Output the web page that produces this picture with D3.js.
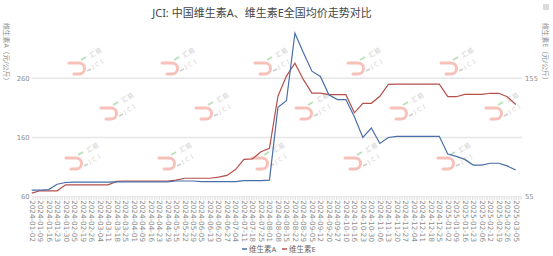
<!DOCTYPE html>
<html>
<head>
<meta charset="utf-8">
<script src="https://cdn.jsdelivr.net/npm/d3@7"></script>
<style>
  body { margin: 0; background: #fff; }
  svg { display: block; font-family: "Noto Sans", "Noto Sans CJK SC", sans-serif; }
</style>
</head>
<body>
<svg id="mainFrame"></svg>
<script>
const dates = ['2024-01-02','2024-01-09','2024-01-16','2024-01-23','2024-01-30','2024-02-05','2024-02-19','2024-02-26',
    '2024-03-04','2024-03-11','2024-03-18','2024-03-25','2024-04-01','2024-04-09','2024-04-16','2024-04-23','2024-04-29',
    '2024-05-15','2024-05-22','2024-05-29','2024-06-05','2024-06-13','2024-06-20','2024-06-27','2024-07-04','2024-07-11',
    '2024-07-18','2024-07-25','2024-08-01','2024-08-08','2024-08-15','2024-08-22','2024-08-29','2024-09-05','2024-09-12',
    '2024-09-20','2024-09-27','2024-10-10','2024-10-16','2024-10-23','2024-10-30','2024-11-06','2024-11-13','2024-11-20',
    '2024-11-27','2024-12-04','2024-12-11','2024-12-18','2024-12-25','2025-01-02','2025-01-09','2025-01-16','2025-01-23',
    '2025-02-06','2025-02-12','2025-02-19','2025-02-26','2025-03-05'];

// 维生素A (元/公斤), left axis
const vitA = [71, 71, 72, 81, 84, 84.5, 84.5, 84.5, 84.5, 84.5,
    85, 85, 85, 85, 85, 85, 85, 86.5, 86.5, 86.5,
    85.5, 85.5, 85.5, 85.5, 85.5, 87, 87, 87, 88, 211,
    222, 336, 303, 272, 263, 232, 224, 224, 195, 160,
    176, 150, 160, 162, 162, 162, 162, 162, 162, 132,
    128, 123, 113.5, 113.5, 116.5, 116.5, 112, 105];

// 维生素E (元/公斤), right axis
const vitE = [58, 60, 60, 60, 65, 65, 65, 65, 65, 65,
    68, 68.3, 68.3, 68.3, 68.3, 68.3, 68.3, 69, 70.6, 70.6,
    70.6, 70.6, 71.5, 73, 78, 86.6, 87, 93, 96, 140,
    157, 168, 154, 142.7, 142.7, 141.3, 141.3, 141.3, 126, 134,
    134, 140, 150, 150.3, 150.3, 150.3, 150.3, 150.3, 150.3, 139.6,
    139.6, 141.6, 141.6, 141.6, 142.5, 142.5, 139.6, 133];

const leftTicks = [60, 160, 260];
const rightTicks = [55, 155];
const seriesNames = ['维生素A', '维生素E'];

const width = 553, height = 256;
const svg = d3.select('#mainFrame')
    .attr('width', width)
    .attr('height', height);

const plot = { left: 31.7, right: 522, top: 33, bottom: 196.7 };
const colors = ['#4a6ea8', '#b5504c'];

const x = d3.scalePoint().domain(dates).range([plot.left, 515.7]);
const yA = d3.scaleLinear().domain([60, 336.5]).range([plot.bottom, plot.top]);
const yE = d3.scaleLinear().domain([55, 193.5]).range([plot.bottom, plot.top]);

// watermark tiles
const marks = [];
[88, 181, 274, 367, 460].forEach(cx => marks.push([cx, 62], [cx - 3, 157]));
[120, 215, 315, 410, 505].forEach(cx => marks.push([cx, 107]));
const wm = svg.append('g').attr('opacity', 0.7);
marks.forEach(([cx, cy]) => {
    const g = wm.append('g').attr('transform', `translate(${cx},${cy})`);
    g.append('path')
        .attr('d', 'M-19,1 L-9,1 A5.5,5.5 0 0 1 -9,12 L-14,12')
        .attr('fill', 'none').attr('stroke', '#f4a79e').attr('stroke-width', 3)
        .attr('stroke-linecap', 'round');
    g.append('line').attr('x1', -7).attr('y1', -2).attr('x2', -2).attr('y2', -5)
        .attr('stroke', '#9fd49f').attr('stroke-width', 2);
    g.append('text').text('汇易')
        .attr('transform', 'translate(3,-4) rotate(-30)')
        .attr('font-size', 6.5).attr('fill', '#bbb');
    g.append('text').text('JCI')
        .attr('transform', 'translate(5,7) rotate(-30)')
        .attr('font-size', 6).attr('letter-spacing', 2.5).attr('fill', '#bbb');
    g.append('line').attr('x1', -1).attr('y1', 9).attr('x2', 3).attr('y2', 7)
        .attr('stroke', '#bbb').attr('stroke-width', 1.5);
});

// grid
svg.append('g').selectAll('line')
    .data(leftTicks.slice(1))
    .join('line')
    .attr('x1', plot.left).attr('x2', plot.right)
    .attr('y1', d => yA(d)).attr('y2', d => yA(d))
    .attr('stroke', '#e6e6e6').attr('stroke-width', 1.5);

// x axis line with dense category ticks
svg.append('line')
    .attr('x1', plot.left).attr('x2', plot.right)
    .attr('y1', plot.bottom).attr('y2', plot.bottom)
    .attr('stroke', '#e2e2e2').attr('stroke-width', 1);
svg.append('line')
    .attr('x1', plot.left).attr('x2', plot.right)
    .attr('y1', plot.bottom + 1.8).attr('y2', plot.bottom + 1.8)
    .attr('stroke', '#dcdcdc').attr('stroke-width', 2.5)
    .attr('stroke-dasharray', '0.8 0.9');

const xAxis = svg.append('g')
    .attr('transform', `translate(0,${plot.bottom})`)
    .call(d3.axisBottom(x).tickSize(0).tickPadding(0));
xAxis.select('.domain').remove();
xAxis.selectAll('text')
    .attr('transform', 'translate(0,3.5) rotate(90)')
    .attr('text-anchor', 'start')
    .attr('x', 0).attr('y', 0).attr('dy', '0.35em')
    .attr('fill', '#8c8c8c')
    .attr('font-size', 7.2)
    .attr('font-family', 'DejaVu Sans');

const leftAxis = svg.append('g')
    .attr('transform', `translate(${plot.left},0)`)
    .call(d3.axisLeft(yA).tickValues(leftTicks).tickSize(0).tickPadding(2));
leftAxis.select('.domain').remove();
leftAxis.selectAll('text').attr('fill', '#8c8c8c').attr('font-size', 6.8).attr('font-family', 'DejaVu Sans');

const rightAxis = svg.append('g')
    .attr('transform', `translate(${plot.right},0)`)
    .call(d3.axisRight(yE).tickValues(rightTicks).tickSize(0).tickPadding(3));
rightAxis.select('.domain').remove();
rightAxis.selectAll('text').attr('fill', '#8c8c8c').attr('font-size', 6.8).attr('font-family', 'DejaVu Sans');

// axis names
svg.append('text')
    .text('维生素A（元/公斤）')
    .attr('transform', 'translate(4,23) rotate(90)')
    .attr('font-size', 6.8).attr('fill', '#8c8c8c');
svg.append('text')
    .text('维生素E（元/公斤）')
    .attr('transform', 'translate(543,23) rotate(90)')
    .attr('font-size', 6.8).attr('fill', '#8c8c8c');

// lines
const lineA = d3.line().x((d, i) => x(dates[i])).y(d => yA(d));
const lineE = d3.line().x((d, i) => x(dates[i])).y(d => yE(d));

svg.append('path').datum(vitE)
    .attr('d', lineE)
    .attr('fill', 'none').attr('stroke', colors[1]).attr('stroke-width', 1.2);
svg.append('path').datum(vitA)
    .attr('d', lineA)
    .attr('fill', 'none').attr('stroke', colors[0]).attr('stroke-width', 1.2);

// title
svg.append('text')
    .text('JCI: 中国维生素A、维生素E全国均价走势对比')
    .attr('x', 262).attr('y', 17)
    .attr('text-anchor', 'middle')
    .attr('font-size', 11)
    .attr('fill', '#464646');

// menu icon
svg.append('g').selectAll('line')
    .data([0, 1, 2])
    .join('line')
    .attr('x1', 543).attr('x2', 549)
    .attr('y1', d => 5 + d * 2).attr('y2', d => 5 + d * 2)
    .attr('stroke', '#999').attr('stroke-width', 0.7);

// legend
const legend = svg.append('g').attr('transform', 'translate(242,249)');
const entry = legend.selectAll('g')
    .data(seriesNames)
    .join('g')
    .attr('transform', (d, i) => `translate(${i * 40},0)`);
entry.append('line')
    .attr('x1', 0).attr('x2', 5).attr('y1', 0).attr('y2', 0)
    .attr('stroke', (d, i) => colors[i]).attr('stroke-width', 1.5);
entry.append('text')
    .text(d => d)
    .attr('x', 7).attr('dy', '0.35em')
    .attr('font-size', 7.5).attr('fill', '#666');
</script>
</body>
</html>
